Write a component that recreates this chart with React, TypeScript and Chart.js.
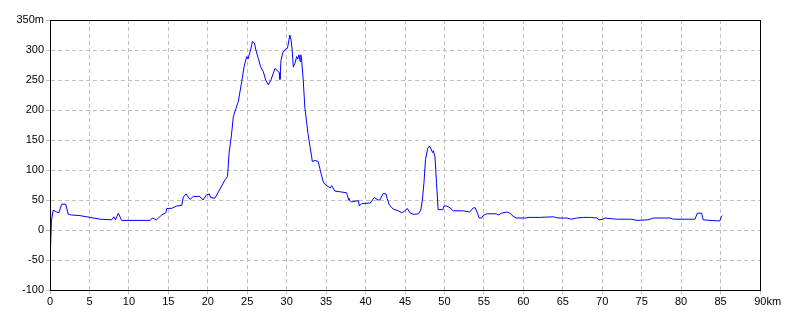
import React, { useEffect, useRef } from "react";
import { Chart, registerables } from "chart.js";

Chart.register(...registerables);

// Distance along the route (km)
const distKm = [
  0.0, 0.12, 0.18, 0.4, 0.85, 1.14, 1.48, 1.99, 2.32, 2.75, 3.8, 5.07, 6.34, 7.82, 8.1, 8.3, 8.66, 9.08,
  12.7, 12.97, 13.5, 14.15, 14.7, 14.8, 15.4, 16.06, 16.7, 16.9, 17.24, 17.75, 18.17, 19.0, 19.4, 19.86,
  20.2, 20.36, 20.9, 21.5, 22.2, 22.5, 22.7, 23.0, 23.24, 23.58, 23.87, 24.3, 24.6, 24.93, 25.1, 25.48,
  25.65, 25.9, 26.1, 26.4, 26.7, 27.04, 27.34, 27.67, 28.0, 28.3, 28.5, 28.8, 29.05, 29.15, 29.28, 29.5,
  29.8, 30.1, 30.2, 30.4, 30.55, 30.7, 30.84, 31.05, 31.27, 31.4, 31.56, 31.7, 31.8, 31.9, 32.1, 32.3,
  32.5, 32.7, 32.96, 33.17, 33.25, 33.6, 34.0, 34.2, 34.3, 34.65, 34.86, 35.3, 35.5, 35.7, 36.1, 37.6,
  37.8, 37.9, 38.2, 39.1, 39.2, 39.5, 40.6, 41.1, 41.6, 41.8, 42.25, 42.6, 42.75, 43.0, 43.5, 44.15,
  44.6, 44.9, 45.3, 45.6, 46.05, 46.7, 47.0, 47.2, 47.4, 47.6, 47.87, 48.1, 48.3, 48.5, 48.6, 48.8,
  49.0, 49.2, 49.8, 49.95, 50.3, 50.7, 51.1, 52.4, 53.2, 53.66, 53.9, 54.2, 54.4, 54.7, 54.9, 55.35,
  56.6, 56.8, 57.25, 57.9, 58.3, 58.7, 59.07, 60.4, 60.6, 62.1, 63.8, 64.4, 65.5, 66.1, 66.8, 67.6,
  68.5, 69.3, 69.6, 70.1, 70.35, 71.8, 73.7, 74.4, 75.8, 76.5, 78.6, 79.0, 81.76, 82.05, 82.6, 82.8,
  83.66, 84.9, 85.1, 85.24,
];

// Elevation (m)
const elevM = [
  -57, -57, 15, 33, 30, 29, 43, 43, 26, 25, 24, 21, 18, 17, 22, 17, 28, 16,
  16, 20, 17, 25, 29, 36, 36, 40, 41, 55, 60, 51, 56, 56, 50, 59,
  60, 54, 53, 67, 84, 89, 128, 158, 189, 203, 214, 247, 272, 289, 285, 303,
  314, 312, 300, 286, 272, 264, 250, 242, 250, 261, 269, 266, 262, 251, 283, 295,
  301, 303, 310, 325, 317, 300, 272, 278, 289, 285, 292, 281, 292, 283, 250, 205,
  183, 161, 139, 122, 114, 116, 114, 103, 97, 80, 76, 72, 70, 74, 65, 62,
  53, 50, 47, 49, 40, 44, 45, 54, 50, 50, 61, 60, 52, 42, 35, 32,
  29, 31, 36, 29, 26, 27, 33, 50, 78, 117, 136, 140, 135, 129, 132, 122,
  78, 34, 34, 40, 40, 37, 32, 32, 30, 37, 37, 28, 20, 20, 24, 27,
  27, 25, 28, 30, 28, 23, 20, 20, 21, 21, 22, 20, 20, 18, 20, 21,
  21, 20, 17, 18, 20, 18, 18, 16, 17, 20, 20, 18, 18, 28, 28, 17,
  16, 15, 22, 24,
];

const xMin = 0;
const xMax = 90;
const xStep = 5;
const xUnit = "km";
const yMin = -100;
const yMax = 350;
const yStep = 50;
const yUnit = "m";

const FONT = { family: "'Liberation Sans', Arial, sans-serif", size: 11 };

const framePlugin = {
  id: "frame",
  afterDraw(chart: any) {
    const { ctx, chartArea: a } = chart;
    ctx.save();
    ctx.strokeStyle = "#000";
    ctx.lineWidth = 1;
    ctx.strokeRect(
      Math.round(a.left) + 0.5,
      Math.round(a.top) + 0.5,
      Math.round(a.right - a.left),
      Math.round(a.bottom - a.top)
    );
    ctx.restore();
  },
};

export default function App() {
  const ref = useRef<HTMLCanvasElement | null>(null);

  useEffect(() => {
    if (!ref.current) return;
    const points = distKm.map((d, i) => ({ x: d, y: elevM[i] }));
    const chart = new Chart(ref.current, {
      type: "line",
      data: {
        datasets: [
          {
            data: points,
            borderColor: "#0000ff",
            borderWidth: 1,
            pointRadius: 0,
            tension: 0,
            fill: false,
          },
        ],
      },
      options: {
        animation: false,
        responsive: false,
        maintainAspectRatio: false,
        layout: { padding: { left: 0, top: 20, right: 40, bottom: 0 } },
        plugins: {
          legend: { display: false },
          tooltip: { enabled: false },
        },
        scales: {
          x: {
            type: "linear",
            min: xMin,
            max: xMax,
            afterFit: (s: any) => {
              s.height = 30;
            },
            grid: {
              color: "#c0c0c0",
              lineWidth: 1,
              drawTicks: true,
              tickLength: 4,
              tickColor: "#c0c0c0",
            },
            border: { display: true, color: "#000", width: 1, dash: [4, 3] },
            ticks: {
              stepSize: xStep,
              autoSkip: false,
              maxRotation: 0,
              color: "#000",
              font: FONT,
              padding: 1,
              callback: (v: any) =>
                Number(v) === xMax ? "     " + v + xUnit : String(v),
            },
          },
          y: {
            type: "linear",
            min: yMin,
            max: yMax,
            afterFit: (s: any) => {
              s.width = 50;
            },
            grid: {
              color: "#c0c0c0",
              lineWidth: 1,
              drawTicks: true,
              tickLength: 4,
              tickColor: "#c0c0c0",
            },
            border: { display: true, color: "#000", width: 1, dash: [4, 3] },
            ticks: {
              stepSize: yStep,
              autoSkip: false,
              color: "#000",
              font: FONT,
              padding: 2,
              callback: (v: any) =>
                Number(v) === yMax ? v + yUnit : String(v),
            },
          },
        },
      },
      plugins: [framePlugin],
    });
    return () => chart.destroy();
  }, []);

  return (
    <div style={{ position: "fixed", left: 0, top: 0, width: 800, height: 320, background: "#fff" }}>
      <canvas ref={ref} width={800} height={320} style={{ display: "block" }} />
    </div>
  );
}
